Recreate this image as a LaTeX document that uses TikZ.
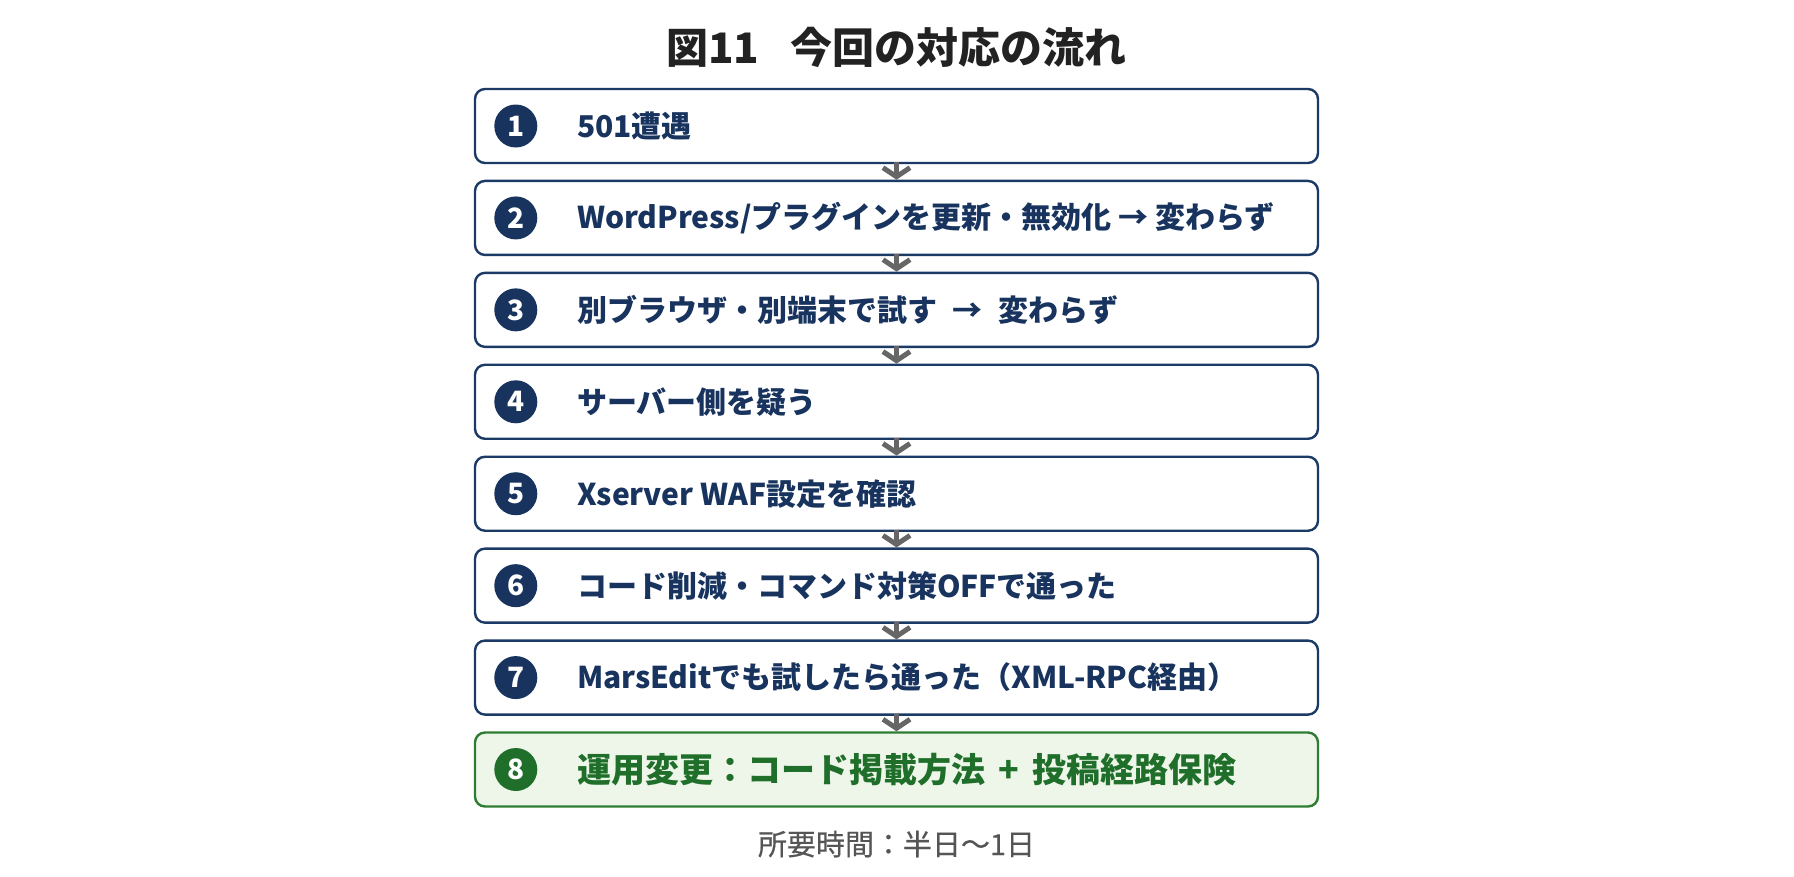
\documentclass[tikz,border=0pt]{standalone}
\usepackage{fontspec}
\newfontfamily\jp{Noto Sans CJK JP}
\usetikzlibrary{arrows.meta,calc}
\definecolor{navy}{HTML}{17335E}
\definecolor{navyline}{HTML}{1C3A66}
\definecolor{gline}{HTML}{2E7D32}
\definecolor{gfill}{HTML}{EEF6EA}
\definecolor{gdark}{HTML}{1F6E2A}
\definecolor{arrowgray}{HTML}{666666}
\definecolor{titlec}{HTML}{222222}
\definecolor{footc}{HTML}{555555}
\tikzset{
  stepbox/.style={draw=navyline, line width=2.4pt, fill=white, rounded corners=10pt,
    minimum width=843pt, minimum height=74pt, inner sep=0pt},
  greenbox/.style={stepbox, draw=gline, fill=gfill},
  numdot/.style={circle, fill=navy, minimum size=43pt, inner sep=0pt,
    text=white, font=\jp\bfseries\fontsize{28pt}{28pt}\selectfont},
  greendot/.style={numdot, fill=gdark},
  steptext/.style={anchor=west, inner sep=0pt, text=navy,
    font=\jp\bfseries\fontsize{30pt}{30pt}\selectfont},
  greentext/.style={steptext, text=gdark, font=\jp\bfseries\fontsize{34pt}{34pt}\selectfont},
  flowarrow/.style={draw=arrowgray, line width=5pt,
    -{Straight Barb[length=9pt,width=27pt,line width=5pt]}},
}
\begin{document}
\begin{tikzpicture}[x=1pt,y=-1pt]
\useasboundingbox[fill=white] (0,0) rectangle (1794,876);
\node[text=titlec, font=\jp\bfseries\fontsize{42pt}{42pt}\selectfont] (title) at (896.5,47) {図11\hspace{0.75em}今回の対応の流れ};
\foreach \i/\t in {1/{501遭遇},
  2/{WordPress/プラグインを更新・無効化 → 変わらず},
  3/{別ブラウザ・別端末で試す\hspace{0.3em} →\hspace{0.3em} 変わらず},
  4/{サーバー側を疑う},
  5/{Xserver WAF設定を確認},
  6/{コード削減・コマンド対策OFFで通った},
  7/{MarsEditでも試したら通った（XML-RPC経由）}} {
  \node[stepbox] (b\i) at (896.5,{126+91.93*(\i-1)}) {};
  \node[numdot] (n\i) at ($(b\i.west)+(42,0)$) {\i};
  \node[steptext] (t\i) at ($(b\i.west)+(103,0)$) {\t};
}
\node[greenbox] (b8) at (896.5,{126+91.93*7}) {};
\node[greendot] (n8) at ($(b8.west)+(42,0)$) {8};
\node[greentext] (t8) at ($(b8.west)+(103,0)$) {運用変更：コード掲載方法\hspace{0.4em}+\hspace{0.4em}投稿経路保険};
\foreach \i [evaluate=\i as \j using int(\i+1)] in {1,...,7} {
  \draw[flowarrow] ($(b\i.south)+(0,-2)$) -- (b\j.north);
}
\node[text=footc, font=\jp\addfontfeature{FakeBold=0.4}\fontsize{29pt}{29pt}\selectfont] (foot) at (896.5,844) {所要時間：半日〜1日};
\end{tikzpicture}
\end{document}
